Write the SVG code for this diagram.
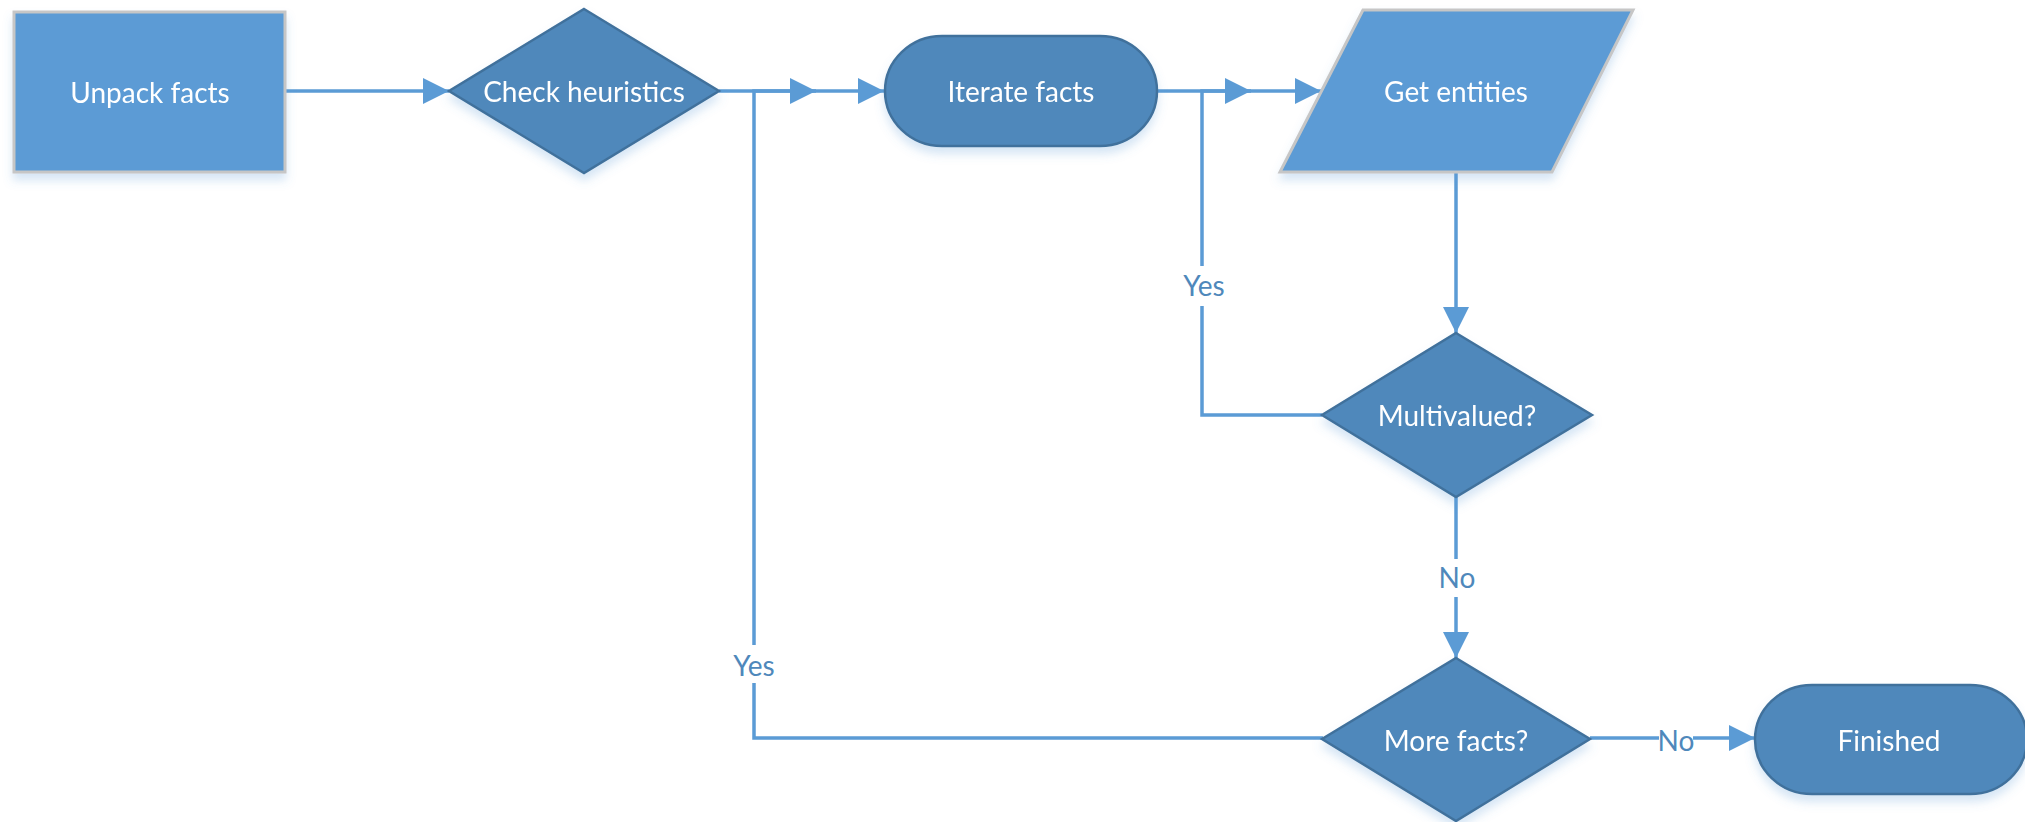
<svg xmlns="http://www.w3.org/2000/svg" width="2025" height="822" viewBox="0 0 2025 822">
<style>
.light{fill:#5B9BD5;stroke:#C6C6C6;stroke-width:3}
.dark{fill:#4F88BB;stroke:#41719C;stroke-width:2.5}
.t{font-family:Lato,"Open Sans",sans-serif;font-size:28px;fill:#FFFFFF;text-anchor:middle;dominant-baseline:central}
.lbl{font-family:Lato,"Open Sans",sans-serif;font-size:28px;fill:#4F88BB;text-anchor:middle;dominant-baseline:central}
.c{fill:none;stroke:#5B9BD5;stroke-width:3.5;marker-end:url(#ah)}
.bg{fill:#FFFFFF}
</style>
<defs>
<marker id="ah" markerUnits="userSpaceOnUse" viewBox="0 0 26 26" markerWidth="26" markerHeight="26" refX="26" refY="13" orient="auto">
<path d="M0,0 L26,13 L0,26 z" fill="#5B9BD5"/>
</marker>
<filter id="sh" x="-10%" y="-10%" width="120%" height="130%">
<feDropShadow dx="0" dy="7" stdDeviation="5" flood-color="#5B9BD5" flood-opacity="0.25"/>
</filter>
</defs>
<g id="connectors">
<path class="c" d="M285,91 L449,91"/>
<path class="c" d="M719,91 L884,91"/>
<path class="c" d="M1323,738 L754,738 L754,91 L816,91"/>
<path class="c" d="M1322,415 L1202,415 L1202,91 L1251,91"/>
<path class="c" d="M1157,91 L1321,91"/>
<path class="c" d="M1456,172 L1456,333"/>
<path class="c" d="M1456,496 L1456,658"/>
<path class="c" d="M1590,738 L1755,738"/>
<rect class="bg" x="1180" y="266" width="46" height="40"/>
<text class="lbl" x="1204" y="285">Yes</text>
<rect class="bg" x="731" y="645" width="46" height="38"/>
<text class="lbl" x="754" y="665">Yes</text>
<rect class="bg" x="1438" y="559" width="38" height="38"/>
<text class="lbl" x="1457" y="577">No</text>
<rect class="bg" x="1659" y="722" width="34" height="32"/>
<text class="lbl" x="1676" y="740">No</text>
</g>
<g id="unpack" filter="url(#sh)">
<rect class="light" x="14" y="12" width="271" height="160"/>
<text class="t" x="150" y="92">Unpack facts</text>
</g>
<g id="check" filter="url(#sh)">
<polygon class="dark" points="584,9 719,91 584,173 449,91"/>
<text class="t" x="584" y="91">Check heuristics</text>
</g>
<g id="iterate" filter="url(#sh)">
<rect class="dark" x="885" y="36" width="272" height="110" rx="57" ry="55"/>
<text class="t" x="1021" y="91">Iterate facts</text>
</g>
<g id="getentities" filter="url(#sh)">
<polygon class="light" points="1363,10 1633,10 1552,172 1280,172"/>
<text class="t" x="1456" y="91">Get entities</text>
</g>
<g id="multivalued" filter="url(#sh)">
<polygon class="dark" points="1456,333 1592,415 1456,497 1322,415"/>
<text class="t" x="1457" y="415">Multivalued?</text>
</g>
<g id="morefacts" filter="url(#sh)">
<polygon class="dark" points="1456,658 1590,739 1456,821 1322,739"/>
<text class="t" x="1456" y="740">More facts?</text>
</g>
<g id="finished" filter="url(#sh)">
<rect class="dark" x="1755" y="685" width="272" height="109" rx="57" ry="55"/>
<text class="t" x="1889" y="740">Finished</text>
</g>
</svg>
